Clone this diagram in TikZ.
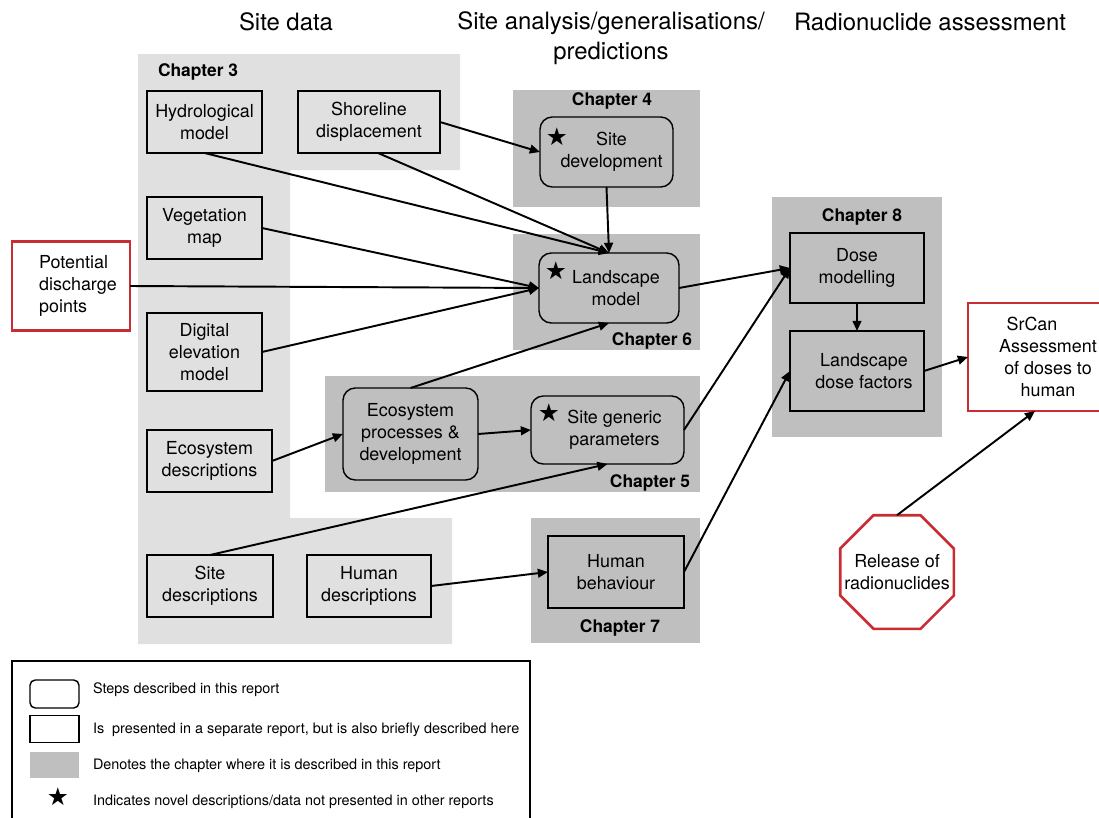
\documentclass[tikz,border=0pt]{standalone}
\usepackage{fontspec}
\setmainfont{TeX Gyre Heros}
\newfontfamily\dejavu{DejaVu Sans}
\usetikzlibrary{arrows.meta,shapes.geometric}

% one drawing unit
\newdimen\pxu \pxu=0.02cm

\definecolor{chlight}{RGB}{224,224,224}
\definecolor{chdark}{RGB}{191,191,191}
\definecolor{srcred}{RGB}{200,45,52}

\newcommand\boxfont{\fontsize{10.2pt}{12.6pt}\selectfont}
\newcommand\headfont{\fontsize{13.6pt}{17pt}\selectfont}
\newcommand\chapfont{\fontsize{9.9pt}{12pt}\selectfont\bfseries}
\newcommand\legfont{\fontsize{8.2pt}{10pt}\selectfont}
\newcommand\starfont{\dejavu\fontsize{14pt}{14pt}\selectfont}

\tikzset{
  every node/.style={inner sep=0pt, outer sep=0pt},
  sz/.style 2 args={minimum width=#1\pxu, minimum height=#2\pxu},
  databox/.style={draw, line width=0.8pt, font=\boxfont, align=center},
  stepbox/.style={databox, rounded corners=7pt},
  redbox/.style={draw=srcred, line width=1.5pt, fill=white, font=\boxfont, align=center},
  region/.style={fill=#1, draw=none},
  chaplabel/.style={font=\chapfont},
  heading/.style={font=\headfont, align=center},
  starmark/.style={font=\starfont},
  legtext/.style={font=\legfont, anchor=west},
  conn/.style={line width=1.1pt, -{Triangle[length=5.8pt, width=5pt]}},
}

\begin{document}
\begin{tikzpicture}[x=0.02cm, y=-0.02cm]
\useasboundingbox (0,0) rectangle (1099,818);
\clip (0,0) rectangle (1099,818);

% column headings
\node[heading] (hsite) at (286,22) {Site data};
\node[heading] (hanal) at (611,38) {Site analysis/generalisations/\\predictions};
\node[heading] (hrad) at (930,22) {Radionuclide assessment};

% chapter areas
\fill[chlight] (138,54) -- (460,54) -- (460,170) -- (290,170) -- (290,518)
  -- (452,518) -- (452,644) -- (138,644) -- cycle;
\node[region=chdark, sz={187}{117}] (ch4) at (606.5,148.5) {};
\node[region=chdark, sz={187}{116}] (ch6) at (606.5,292) {};
\node[region=chdark, sz={375}{116}] (ch5) at (512.5,434) {};
\node[region=chdark, sz={169}{125}] (ch7) at (615.5,580.5) {};
\node[region=chdark, sz={170}{240}] (ch8) at (857,317) {};

\node[chaplabel, anchor=west] (l3) at (158,72) {Chapter 3};
\node[chaplabel] (l4) at (612,101) {Chapter 4};
\node[chaplabel, anchor=east] (l6) at (692,341) {Chapter 6};
\node[chaplabel, anchor=east] (l5) at (690,483) {Chapter 5};
\node[chaplabel] (l7) at (620,628) {Chapter 7};
\node[chaplabel] (l8) at (862,217) {Chapter 8};

% site data
\node[databox, sz={115}{62}] (hyd) at (204.5,122) {Hydrological\\model};
\node[databox, sz={142}{62}] (shore) at (369,122) {Shoreline\\displacement};
\node[databox, sz={115}{62}] (veg) at (204.5,228) {Vegetation\\map};
\node[databox, sz={115}{78}] (dem) at (204.5,352) {Digital\\elevation\\model};
\node[databox, sz={125}{62}] (ecod) at (209.5,461) {Ecosystem\\descriptions};
\node[databox, sz={126}{62}] (sited) at (210,586) {Site\\descriptions};
\node[databox, sz={124}{62}] (humd) at (369,586) {Human\\descriptions};
\node[redbox, sz={118}{89}, align=left] (pdp) at (71,286)
  {\hspace*{14\pxu}Potential\\\hspace*{14\pxu}discharge\\\hspace*{14\pxu}points};

% analysis steps
\node[stepbox, sz={133}{70}] (sitedev) at (606.5,152) {\hspace*{10\pxu}Site\\\hspace*{10\pxu}development};
\node[stepbox, sz={140}{70}] (land) at (609,288) {\hspace*{14\pxu}Landscape\\\hspace*{14\pxu}model};
\node[stepbox, sz={135}{92}] (ecop) at (410.5,434) {Ecosystem\\processes \&\\development};
\node[stepbox, sz={153}{68}] (sgp) at (607.5,430) {\hspace*{14\pxu}Site generic\\\hspace*{14\pxu}parameters};
\node[databox, sz={136}{72}] (humb) at (616,572) {Human\\behaviour};

% assessment
\node[databox, sz={134}{70}] (dose) at (857,268) {Dose\\modelling};
\node[databox, sz={134}{80}] (ldf) at (857,371) {\hspace*{14\pxu}Landscape\\\hspace*{14\pxu}dose factors};
\node[redbox, sz={160}{108}] (srcan) at (1048,357) {SrCan\hspace*{32\pxu}\\Assessment\\of doses to\\human};
\node[redbox, regular polygon, regular polygon sides=8, minimum size=123\pxu] (rel) at (897,572)
  {\makebox[0pt]{Release of}\\\makebox[0pt]{radionuclides}};

% novelty marks
\node[starmark] (s1) at (557,137) {★};
\node[starmark] (s2) at (556,271) {★};
\node[starmark] (s3) at (549,413) {★};

% connectors
\draw[conn] (shore.east) -- (sitedev.west);
\draw[conn] ([xshift=9\pxu]shore.south) -- (land.north);
\draw[conn] (hyd.south) -- (land.north);
\draw[conn] (sitedev.south) -- (land.north);
\draw[conn] (veg.east) -- (land.west);
\draw[conn] (pdp.east) -- (land.west);
\draw[conn] (dem.east) -- (land.west);
\draw[conn] (ecop.north) -- (land.south);
\draw[conn] (ecod.east) -- (ecop.west);
\draw[conn] (ecop.east) -- (sgp.west);
\draw[conn] (sited.north) -- (sgp.south);
\draw[conn] (humd.east) -- (humb.west);
\draw[conn] (land.east) -- (dose.west);
\draw[conn] (sgp.east) -- (dose.west);
\draw[conn] (humb.east) -- (ldf.west);
\draw[conn] (dose.south) -- (ldf.north);
\draw[conn] (ldf.east) -- (srcan.west);
\draw[conn] (rel.north) -- ([xshift=-13\pxu]srcan.south);

% legend
\draw[line width=1.2pt] (12,830) -- (12,661) -- (530,661) -- (530,830);
\node[draw, line width=0.8pt, rounded corners=3pt, sz={49}{28}] (kstep) at (54.5,694) {};
\node[draw, line width=0.8pt, sz={49}{27}] (kdata) at (54.5,729) {};
\node[fill=chdark, sz={49}{26}] (kchap) at (54.5,765) {};
\node[starmark] (kstar) at (58,797) {★};
\node[legtext] (t1) at (93,690) {Steps described in this report};
\node[legtext] (t2) at (93,730) {Is\ \ presented in a separate report, but is also briefly described here};
\node[legtext] (t3) at (93,766) {Denotes the chapter where it is described in this report};
\node[legtext] (t4) at (93,802) {Indicates novel descriptions/data not presented in other reports};
\end{tikzpicture}
\end{document}
